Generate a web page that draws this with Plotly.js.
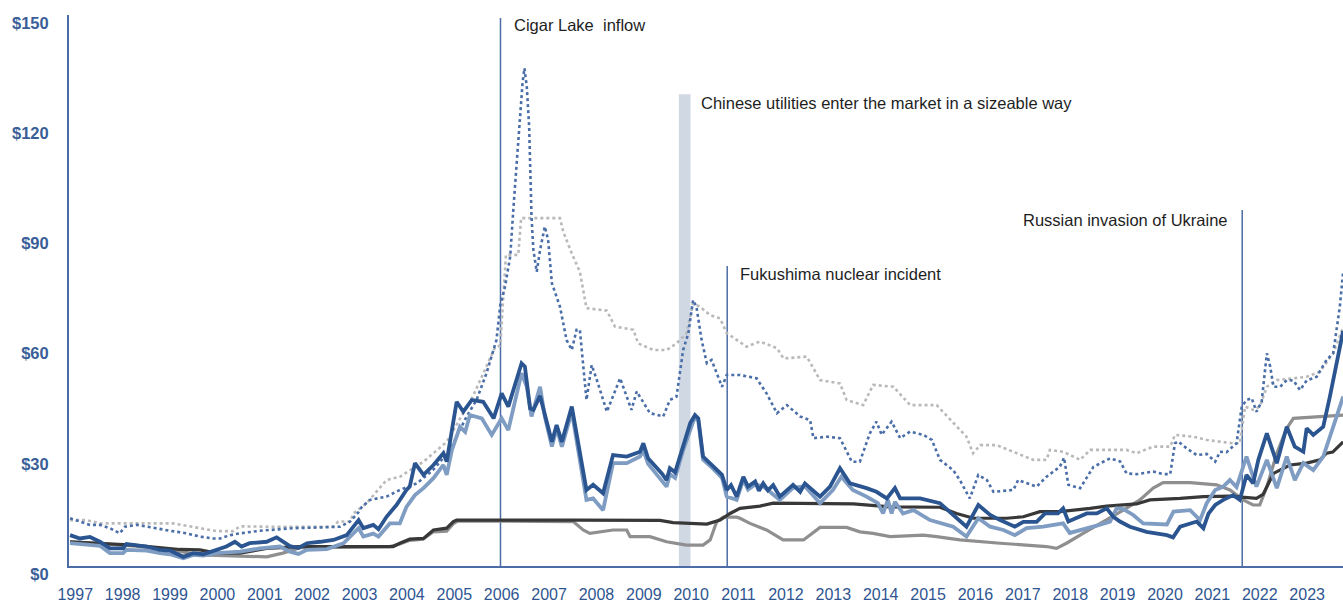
<!DOCTYPE html>
<html>
<head>
<meta charset="utf-8">
<script src="https://cdn.plot.ly/plotly-3.0.1.min.js"></script>
<style>
html,body{margin:0;padding:0;background:#fff;}
#chart{width:1343px;height:603px;}
</style>
</head>
<body>
<div id="chart"></div>
<script>
// ---- Data (decimal-year positions, US$ values) ----
const yearTicks = [1997,1998,1999,2000,2001,2002,2003,2004,2005,2006,2007,2008,2009,2010,2011,2012,2013,2014,2015,2016,2017,2018,2019,2020,2021,2022,2023];
const yearLabels = yearTicks.map(String);
const priceTicks = [0,30,60,90,120,150];
const priceLabels = ['$0','$30','$60','$90','$120','$150'];

// Dark blue thick line
const tA = [1996.89,1997.10,1997.31,1997.52,1997.73,1998.01,1998.08,1998.51,1998.79,1999.00,
1999.28,1999.49,1999.70,1999.98,2000.19,2000.37,2000.51,2000.68,2001.04,2001.25,
2001.53,2001.71,2001.89,2002.17,2002.45,2002.73,2002.98,2003.08,2003.29,2003.40,
2003.57,2003.78,2003.99,2004.06,2004.17,2004.35,2004.56,2004.77,2004.84,2004.95,
2005.05,2005.19,2005.37,2005.61,2005.83,2006.00,2006.14,2006.42,2006.49,2006.60,
2006.67,2006.81,2006.91,2007.06,2007.16,2007.27,2007.48,2007.62,2007.79,2007.93,
2008.14,2008.35,2008.64,2008.92,2008.99,2009.09,2009.38,2009.48,2009.55,2009.66,
2009.83,2009.98,2010.08,2010.15,2010.25,2010.46,2010.65,2010.75,2010.84,2010.96,
2011.10,2011.20,2011.35,2011.43,2011.52,2011.62,2011.73,2011.87,2012.15,2012.30,
2012.40,2012.72,2012.93,2013.14,2013.35,2013.70,2013.91,2014.13,2014.30,2014.41,
2014.83,2015.25,2015.81,2016.06,2016.31,2016.52,2016.83,2017.01,2017.29,2017.47,
2017.74,2017.85,2017.96,2018.35,2018.56,2018.77,2018.91,2019.05,2019.26,2019.61,
2020.04,2020.17,2020.32,2020.67,2020.81,2020.92,2021.06,2021.23,2021.44,2021.58,
2021.72,2021.86,2021.97,2022.15,2022.36,2022.57,2022.74,2022.92,2022.99,2023.13,
2023.34,2023.48,2023.69,2023.76];
const vA = [8.4,7.5,7.9,6.6,4.8,4.8,6.0,5.3,4.4,4.2,
2.5,3.5,3.2,4.4,5.3,6.6,5.3,6.2,6.6,7.8,
5.4,4.9,6.2,6.6,7.1,8.4,12.5,10.3,11.2,10.0,
13.4,16.6,20.7,21.6,28.0,24.8,27.5,30.7,28.4,37.0,
44.7,42.0,45.2,44.7,40.2,47.0,43.4,55.2,54.3,42.9,
42.5,46.3,41.1,33.8,38.4,33.8,43.4,33.4,20.7,22.1,
19.8,30.2,29.8,31.1,33.4,29.3,25.2,23.4,26.6,25.5,
32.5,38.9,41.1,40.2,29.8,27.0,24.8,20.7,22.0,18.9,
24.3,21.6,23.0,20.5,22.5,20.6,22.0,18.9,22.1,20.2,
22.5,18.9,21.6,26.6,22.5,21.2,20.2,18.4,21.2,18.4,
18.4,17.1,10.7,16.6,13.9,12.5,10.7,12.0,12.0,14.3,
14.3,15.7,12.1,14.3,14.3,15.7,13.4,12.1,10.7,9.3,
8.4,7.8,10.7,12.1,10.3,14.3,16.6,18.0,19.3,18.0,
24.8,22.5,28.9,36.1,28.0,37.9,32.5,31.1,37.5,35.7,
37.9,46.1,59.7,64.0];

// Light blue thick line
const tB = [1996.89,1997.31,1997.52,1997.73,1998.01,1998.08,1998.51,1998.79,1999.00,1999.28,
1999.49,1999.70,1999.98,2000.48,2000.90,2001.32,2001.53,2001.71,2001.89,2002.31,
2002.66,2002.98,2003.08,2003.29,2003.40,2003.64,2003.85,2003.99,2004.17,2004.35,
2004.56,2004.77,2004.84,2004.95,2005.12,2005.23,2005.33,2005.58,2005.79,2006.00,
2006.14,2006.42,2006.53,2006.63,2006.81,2006.91,2007.06,2007.16,2007.27,2007.48,
2007.62,2007.79,2007.93,2008.14,2008.35,2008.64,2008.92,2008.99,2009.09,2009.48,
2009.55,2009.66,2009.83,2009.98,2010.08,2010.15,2010.25,2010.46,2010.65,2010.75,
2010.96,2011.10,2011.20,2011.35,2011.52,2011.87,2012.15,2012.40,2012.72,2012.99,
2013.17,2013.41,2013.70,2013.94,2014.05,2014.15,2014.23,2014.30,2014.47,2014.69,
2015.04,2015.53,2015.81,2016.06,2016.31,2016.59,2016.83,2017.08,2017.43,2017.85,
2017.99,2018.56,2018.84,2018.98,2019.12,2019.33,2019.54,2020.04,2020.18,2020.53,
2020.74,2020.88,2021.06,2021.23,2021.37,2021.51,2021.72,2021.93,2022.15,2022.36,
2022.57,2022.74,2022.92,2023.13,2023.34,2023.55,2023.76];
const vB = [6.2,5.8,5.5,3.5,3.5,4.4,4.2,3.5,3.2,2.1,
3.0,2.8,3.5,3.9,4.8,5.3,3.9,3.3,4.4,4.6,
6.2,10.3,8.0,8.8,8.0,11.6,11.6,16.1,19.3,21.2,
23.9,27.5,24.8,31.6,37.9,36.5,41.1,40.2,35.7,40.2,
37.0,52.5,48.8,40.7,48.8,40.7,32.5,37.5,32.5,42.0,
31.5,18.0,18.4,15.2,28.0,28.0,29.8,31.5,27.8,21.6,
25.0,24.0,31.5,37.5,40.7,39.5,29.0,26.5,24.0,18.9,
18.0,23.5,20.8,22.2,21.7,18.0,21.3,21.7,17.1,20.7,
24.3,20.7,18.9,17.1,14.3,18.0,14.3,17.5,14.3,15.2,
12.5,10.7,8.0,13.0,10.7,9.8,8.4,10.3,10.7,11.6,
9.0,11.0,12.1,15.7,15.5,13.9,11.6,11.3,14.8,15.2,
12.5,17.1,20.7,21.6,23.4,21.5,29.8,21.6,28.9,21.2,
29.8,23.4,28.0,26.1,29.8,37.9,46.1];

// Dotted dark blue line
const tC = [1996.89,1997.31,1997.52,1997.73,1997.94,1998.05,1998.30,1998.65,1999.00,1999.35,
1999.63,1999.91,2000.06,2000.27,2000.48,2000.90,2001.60,2002.17,2002.59,2002.80,
2002.97,2003.05,2003.22,2003.57,2003.85,2004.21,2004.55,2004.91,2005.26,2005.47,
2005.68,2005.89,2005.97,2006.07,2006.18,2006.25,2006.32,2006.39,2006.44,2006.48,
2006.53,2006.58,2006.60,2006.63,2006.67,2006.74,2006.81,2006.91,2006.98,2007.06,
2007.23,2007.37,2007.48,2007.58,2007.65,2007.72,2007.79,2007.90,2008.01,2008.22,
2008.50,2008.74,2008.85,2009.13,2009.41,2009.55,2009.69,2009.83,2009.94,2010.04,
2010.11,2010.22,2010.33,2010.43,2010.54,2010.65,2010.75,2011.03,2011.38,2011.59,
2011.81,2012.02,2012.30,2012.51,2012.58,2012.87,2013.14,2013.39,2013.56,2013.77,
2013.91,2014.02,2014.23,2014.41,2014.62,2014.90,2015.08,2015.25,2015.53,2015.67,
2015.88,2016.06,2016.24,2016.38,2016.80,2016.90,2017.29,2017.50,2017.78,2017.87,
2017.96,2018.21,2018.49,2018.84,2019.05,2019.19,2019.40,2019.75,2019.96,2020.11,
2020.21,2020.28,2020.46,2020.67,2020.88,2021.06,2021.16,2021.30,2021.51,2021.62,
2021.72,2021.83,2021.93,2022.04,2022.15,2022.22,2022.29,2022.43,2022.57,2022.71,
2022.85,2022.99,2023.20,2023.41,2023.55,2023.69,2023.76];
const vC = [13.0,11.2,11.2,10.3,8.9,10.7,11.2,10.3,9.6,8.9,
8.0,7.5,7.5,8.4,8.9,9.6,10.3,10.5,10.7,12.1,
14.5,16.1,18.0,18.9,20.7,22.5,26.1,31.6,40.7,45.2,
52.5,61.5,71.0,76.0,84.2,97.8,110.5,124.1,131.4,135.5,
130.5,119.6,108.7,95.1,86.0,80.1,86.0,92.4,88.8,77.0,
70.6,61.5,58.8,64.3,64.3,55.2,45.2,54.7,50.6,42.0,
51.1,42.5,47.5,41.6,40.7,45.2,46.1,58.8,63.4,72.4,
70.6,61.5,55.2,56.1,52.5,48.8,52.0,52.0,51.1,47.0,
41.6,43.8,40.7,39.7,34.8,35.2,34.8,28.4,28.4,36.1,
39.3,35.7,39.3,34.8,36.6,35.7,34.3,28.9,26.1,23.4,
18.4,24.8,23.4,20.2,20.7,23.4,21.6,24.3,27.0,29.5,
22.1,21.2,27.0,29.3,28.5,25.2,25.0,25.7,25.0,25.0,
33.4,33.9,32.0,30.2,30.5,28.4,31.1,31.0,33.4,43.4,
45.2,45.7,42.0,44.7,57.9,54.3,48.8,48.8,50.6,50.5,
47.9,50.5,51.5,56.1,57.9,70.6,80.0];

// Dotted light grey line
const tD = [1996.89,1997.24,1997.52,1999.06,1999.63,1999.98,2000.33,2000.48,2001.04,2002.44,
2002.55,2002.80,2002.87,2003.15,2003.57,2003.85,2004.35,2004.84,2005.39,2005.86,
2005.97,2006.09,2006.35,2006.41,2007.23,2007.30,2007.48,2007.65,2007.79,2008.22,
2008.39,2008.78,2008.88,2009.20,2009.48,2009.69,2009.90,2010.04,2010.18,2010.40,
2010.61,2010.75,2011.17,2011.45,2011.81,2011.95,2012.44,2012.72,2013.14,2013.28,
2013.63,2013.84,2014.27,2014.62,2015.18,2015.53,2015.81,2015.95,2016.10,2016.45,
2016.80,2017.22,2017.50,2017.57,2017.85,2018.21,2018.42,2019.19,2019.40,2019.75,
2020.11,2020.21,2020.60,2020.88,2021.44,2021.58,2021.69,2021.86,2022.00,2022.15,
2022.36,2022.99,2023.27,2023.55,2023.76];
const vD = [12.5,12.5,11.6,11.6,10.3,9.5,9.5,10.8,10.7,10.7,
12.1,12.1,14.3,17.1,23.4,24.3,28.4,33.8,46.1,59.5,
60.0,84.7,84.7,94.7,94.7,91.0,85.1,80.1,70.2,69.5,
65.2,64.3,60.6,58.8,58.8,60.6,63.4,71.5,70.6,68.3,
67.4,63.4,59.7,61.1,59.3,56.5,57.0,50.6,49.7,45.2,
43.8,49.3,48.8,43.8,43.8,38.9,35.2,30.7,32.9,32.9,
31.1,28.9,28.9,31.6,31.1,28.9,31.6,31.6,30.7,32.5,
32.5,35.7,35.2,34.3,33.4,33.4,43.4,42.5,43.4,48.8,
50.6,51.5,52.9,57.9,65.0];

// Near-black solid line
const tE = [1996.89,1998.22,1999.21,1999.63,1999.98,2000.48,2001.04,2001.74,2003.71,2003.85,
2004.06,2004.35,2004.56,2004.84,2004.98,2005.05,2007.51,2009.34,2009.62,2010.33,
2010.61,2010.82,2011.03,2011.45,2011.73,2012.44,2013.42,2014.20,2015.25,2015.60,
2015.96,2016.66,2017.01,2017.36,2017.78,2018.42,2018.77,2019.40,2019.68,2020.32,
2020.81,2021.37,2021.93,2022.07,2022.29,2022.64,2022.99,2023.27,2023.41,2023.54,
2023.76];
const vE = [6.6,5.7,4.5,4.4,3.5,3.5,4.8,5.3,5.3,6.2,
7.3,7.5,9.8,10.3,12.1,12.5,12.5,12.4,11.8,11.4,
12.5,14.3,15.7,16.3,17.1,17.1,16.9,16.1,16.0,14.3,
13.0,13.0,13.4,14.8,14.8,15.7,16.3,16.9,18.0,18.4,
18.9,19.0,18.4,19.5,25.2,27.5,28.0,28.9,30.7,31.0,
33.8];

// Medium grey solid line
const tF = [1996.89,1998.22,1999.21,1999.63,2001.04,2001.38,2001.74,2003.64,2003.85,2004.06,
2004.34,2004.55,2004.84,2004.98,2005.08,2007.51,2007.72,2007.86,2008.35,2008.64,
2008.71,2009.13,2009.48,2009.90,2010.25,2010.40,2010.54,2010.68,2010.96,2011.03,
2011.24,2011.59,2011.94,2012.37,2012.72,2013.28,2013.56,2013.84,2014.20,2014.90,
2015.18,2015.67,2016.52,2017.15,2017.50,2017.71,2017.92,2018.27,2018.77,2019.12,
2019.47,2019.75,2019.96,2020.53,2021.09,2021.37,2021.65,2021.86,2022.00,2022.15,
2022.36,2022.57,2022.71,2023.27,2023.76];
const vF = [6.6,5.5,4.0,3.0,2.5,3.5,5.0,5.3,6.0,7.0,
7.3,9.3,9.5,11.5,12.3,12.1,9.8,8.9,9.8,9.8,
8.0,8.0,6.6,5.7,5.7,7.1,12.1,13.3,13.3,13.0,
11.6,9.8,7.1,7.1,10.5,10.5,9.3,8.9,8.0,8.4,
8.0,7.1,6.2,5.7,5.3,4.8,6.2,8.9,12.5,15.2,
18.0,21.2,22.7,22.7,22.1,20.7,18.0,16.6,16.6,21.6,
30.7,37.5,40.2,40.7,41.1];

// Events
const eventNames = ['Cigar Lake  inflow', 'Fukushima nuclear incident', 'Russian invasion of Ukraine'];
const eventX = [2005.975, 2010.76, 2021.63];
const eventTop = [149.2, 81.7, 96.9];
const bandLabel = 'Chinese utilities enter the market in a sizeable way';
const bandX = [2009.74, 2009.985];
const bandTop = 128.4;

// ---- Styling ----
const FONT = '"Liberation Sans Narrow", "Arial Narrow", "Liberation Sans", Arial, sans-serif';
const AXIS_BLUE = '#4b6ca5';
function line(x, y, color, width, dash) {
  return {x: x, y: y, type: 'scatter', mode: 'lines', hoverinfo: 'skip',
          line: {color: color, width: width, dash: dash || 'solid', shape: 'linear'}};
}
const traces = [
  line(tF, vF, '#8f8f8f', 3.2),
  line(tE, vE, '#383838', 3.2),
  line(tD, vD, '#b9b9b9', 2.6, 'dot'),
  line(tC, vC, '#4a6ea8', 2.6, 'dot'),
  line(tB, vB, '#7f9cc3', 3.8),
  line(tA, vA, '#2b5590', 3.8)
];

const shapes = [];
shapes.push({type: 'rect', xref: 'x', yref: 'y', x0: bandX[0], x1: bandX[1], y0: 0, y1: bandTop,
             fillcolor: '#d0d8e4', line: {width: 0}, layer: 'below'});
for (let i = 0; i < eventX.length; i++) {
  shapes.push({type: 'line', xref: 'x', yref: 'y', x0: eventX[i], x1: eventX[i], y0: 0, y1: eventTop[i],
               line: {color: AXIS_BLUE, width: 1.5}, layer: 'below'});
}

const annFont = {family: FONT, size: 16.5, color: '#1e1e1e'};
const annotations = [
  {x: 2006.22, y: 147.3, text: eventNames[0], xanchor: 'left', yanchor: 'middle'},
  {x: 2010.16, y: 126.1, text: bandLabel, xanchor: 'left', yanchor: 'middle'},
  {x: 2010.99, y: 79.5, text: eventNames[1], xanchor: 'left', yanchor: 'middle'},
  {x: 2021.37, y: 94.2, text: eventNames[2], xanchor: 'right', yanchor: 'middle'}
].map(a => Object.assign(a, {xref: 'x', yref: 'y', showarrow: false, font: annFont}));

const layout = {
  width: 1343, height: 603,
  margin: {l: 69, r: 0, t: 15, b: 37, pad: 0},
  paper_bgcolor: '#ffffff', plot_bgcolor: '#ffffff',
  showlegend: false,
  font: {family: FONT},
  xaxis: {
    range: [1996.868, 2023.757], tickmode: 'array', tickvals: yearTicks, ticktext: yearLabels,
    showgrid: false, zeroline: false, showline: true, linecolor: AXIS_BLUE, linewidth: 2,
    ticks: '', ticklabelstandoff: 13,
    tickfont: {family: FONT, size: 16, color: '#2f5591'}
  },
  yaxis: {
    range: [0, 150], tickmode: 'array', tickvals: priceTicks, ticktext: priceLabels,
    showgrid: false, zeroline: false, showline: true, linecolor: AXIS_BLUE, linewidth: 2,
    ticks: '', ticklabelstandoff: 15, ticklabelshift: 8,
    tickfont: {family: FONT, size: 16.5, color: '#3a5f98', weight: 'bold'}
  },
  shapes: shapes,
  annotations: annotations
};

Plotly.newPlot('chart', traces, layout, {displayModeBar: false, staticPlot: true});
</script>
</body>
</html>
